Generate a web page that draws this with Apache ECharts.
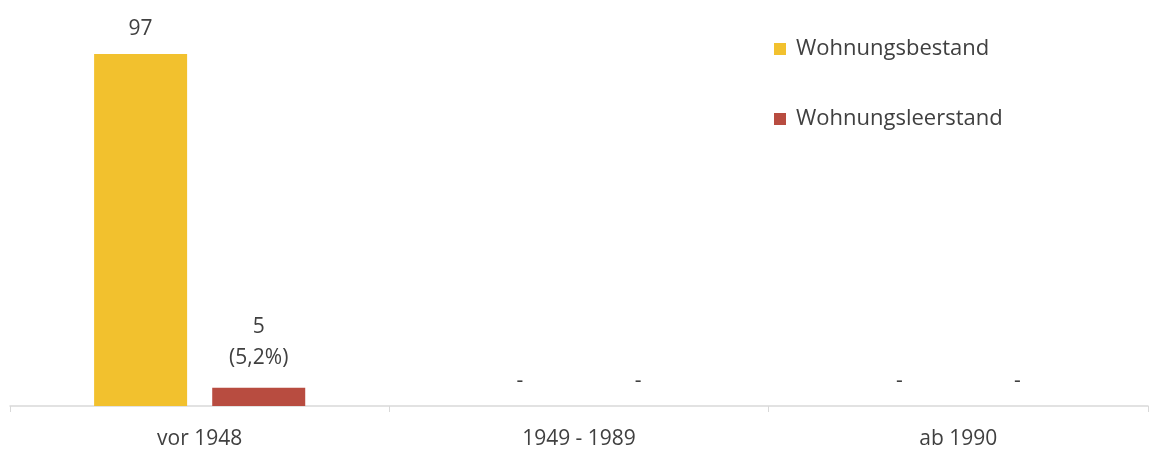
<!DOCTYPE html>
<html>
<head>
<meta charset="utf-8">
<script src="https://cdn.jsdelivr.net/npm/echarts@6/dist/echarts.min.js"></script>
<style>
  html, body { margin: 0; padding: 0; background: #fff; }
  #chart { width: 1152px; height: 450px; }
</style>
</head>
<body>
<div id="chart"></div>
<script>
// Daten
const categories = ["vor 1948", "1949 - 1989", "ab 1990"];
const bestand = [97, 0, 0];
const leerstand = [5, 0, 0];
const leerstandQuote = ["5,2%", null, null];

const chart = echarts.init(document.getElementById("chart"));
const textColor = "#404040";
const fontFamily = "'Open Sans', 'Liberation Sans', sans-serif";

function valueLabel(withPct) {
  return function (p) {
    if (!p.value) return "-";
    if (withPct && leerstandQuote[p.dataIndex]) {
      return p.value + "\n(" + leerstandQuote[p.dataIndex] + ")";
    }
    return String(p.value);
  };
}

function toItems(values) {
  // Nullwerte: nur ein Strich knapp oberhalb der Achse
  return values.map(function (v) {
    return v ? v : { value: v, label: { lineHeight: 22, distance: 14 } };
  });
}

const options = {
  animation: false,
  textStyle: { fontFamily: fontFamily },
  grid: { left: 10, right: 4, top: 43, bottom: 44 },
  legend: {
    orient: "vertical",
    left: 769,
    top: 33,
    itemWidth: 12,
    itemHeight: 12,
    itemGap: 48,
    icon: "rect",
    textStyle: {
      color: textColor,
      fontSize: 22,
      fontFamily: fontFamily,
      padding: [0, 0, 0, 5]
    }
  },
  xAxis: {
    type: "category",
    data: categories,
    axisLine: { lineStyle: { color: "#d9d9d9", width: 1.5 } },
    axisTick: { show: true, length: 6, lineStyle: { color: "#d9d9d9" } },
    axisLabel: { color: textColor, fontSize: 21, margin: 23 }
  },
  yAxis: {
    type: "value",
    min: 0,
    max: 100,
    show: false,
    splitLine: { show: false }
  },
  series: [
    {
      name: "Wohnungsbestand",
      type: "bar",
      data: toItems(bestand),
      barWidth: 93,
      barGap: "27%",
      itemStyle: { color: "#F2C12E" },
      label: {
        show: true,
        position: "top",
        distance: 14,
        color: textColor,
        fontSize: 21,
        formatter: valueLabel(false)
      }
    },
    {
      name: "Wohnungsleerstand",
      type: "bar",
      data: toItems(leerstand),
      barWidth: 93,
      itemStyle: { color: "#B84C40" },
      label: {
        show: true,
        position: "top",
        distance: 14,
        color: textColor,
        fontSize: 21,
        lineHeight: 31,
        formatter: valueLabel(true)
      }
    }
  ]
};

chart.setOption(options);
</script>
</body>
</html>
